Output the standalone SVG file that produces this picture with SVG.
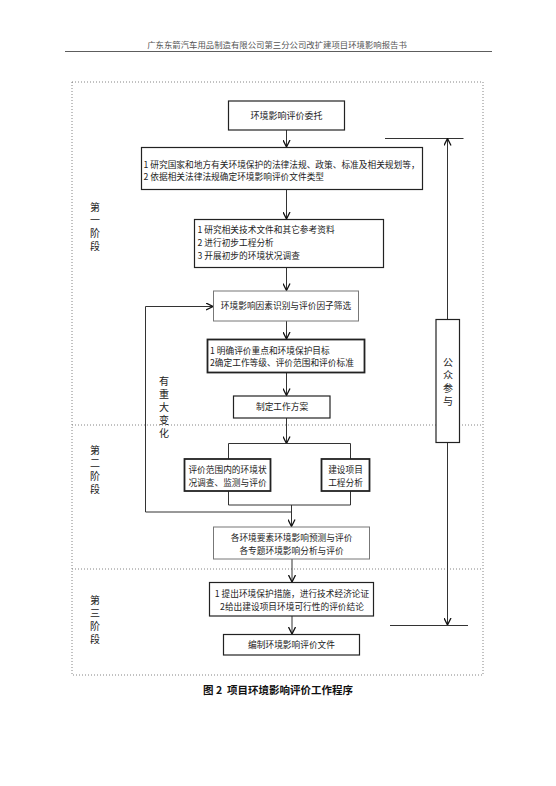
<svg xmlns="http://www.w3.org/2000/svg" width="556" height="786" viewBox="0 0 556 786">
<style>
text{font-family:"Noto Sans CJK SC","Noto Sans",sans-serif;fill:#222;}
.t{font-size:8.7px;}
.c{text-anchor:middle;}
.box{fill:#fff;stroke:#222;stroke-width:1.2;}
.boxl{fill:#fff;stroke:#777;stroke-width:1;}
.boxb{fill:#fff;stroke:#222;stroke-width:1.8;}
.dot{fill:none;stroke:#777;stroke-width:0.9;stroke-dasharray:1 2;}
.ln{fill:none;stroke:#333;stroke-width:1;}
.v{font-size:10px;writing-mode:vertical-rl;letter-spacing:3px;}
</style>
<defs>
<marker id="arr" viewBox="0 0 8 8" refX="7.5" refY="4" markerWidth="8" markerHeight="8" markerUnits="userSpaceOnUse" orient="auto">
<path d="M0.5,0.5 L7.5,4 L0.5,7.5" fill="none" stroke="#111" stroke-width="1.3"/>
</marker>
</defs>
<rect width="556" height="786" fill="#fff"/>
<g id="header">
<text x="277" y="48" class="c" style="font-size:8.4px;fill:#555;">广东东箭汽车用品制造有限公司第三分公司改扩建项目环境影响报告书</text>
<line x1="65" y1="51.5" x2="492" y2="51.5" stroke="#333" stroke-width="0.8"/>
</g>
<g id="frame">
<rect class="dot" x="72" y="82" width="411" height="593"/>
<line class="dot" x1="72" y1="425" x2="483" y2="425"/>
<line class="dot" x1="72" y1="569" x2="483" y2="569"/>
</g>
<g id="phase1"><text class="v" x="95" y="202">第一阶段</text></g>
<g id="phase2"><text class="v" x="95" y="445">第二阶段</text></g>
<g id="phase3"><text class="v" x="95" y="595">第三阶段</text></g>
<g id="connectors">
<line class="ln" x1="286.5" y1="130" x2="286.5" y2="147" marker-end="url(#arr)"/>
<line class="ln" x1="286.5" y1="189.5" x2="286.5" y2="219" marker-end="url(#arr)"/>
<line class="ln" x1="286.5" y1="267.5" x2="286.5" y2="290.5" marker-end="url(#arr)"/>
<line class="ln" x1="286.5" y1="321" x2="286.5" y2="339" marker-end="url(#arr)"/>
<line class="ln" x1="286.5" y1="372.5" x2="286.5" y2="395.5" marker-end="url(#arr)"/>
<line class="ln" x1="286.5" y1="418" x2="286.5" y2="443.5" marker-end="url(#arr)"/>
<path class="ln" d="M228.5,459 V443.5 H350.5 V459"/>
<path class="ln" d="M228.5,491 V505 H350.5 V491"/>
<line class="ln" x1="291.5" y1="505" x2="291.5" y2="526.5" marker-end="url(#arr)"/>
<path class="ln" d="M291.5,512 H145.5 V306.5 H213" marker-end="url(#arr)"/>
<line class="ln" x1="292" y1="559" x2="292" y2="582" marker-end="url(#arr)"/>
<line class="ln" x1="292" y1="616" x2="292" y2="634" marker-end="url(#arr)"/>
<line class="ln" x1="385" y1="138.5" x2="463.5" y2="138.5"/>
<line class="ln" x1="447.5" y1="319" x2="447.5" y2="138.5" marker-end="url(#arr)"/>
<line class="ln" x1="447.5" y1="442" x2="447.5" y2="625" marker-end="url(#arr)"/>
<line class="ln" x1="390" y1="625.5" x2="468" y2="625.5"/>
</g>
<g id="n1"><rect class="box" x="228.5" y="101" width="116" height="29"/><text class="c" x="286.5" y="119" style="font-size:9px">环境影响评价委托</text></g>
<g id="n2"><rect class="box" x="141.5" y="147.5" width="281" height="42"/><text class="t" x="143.5" y="167.5">1 研究国家和地方有关环境保护的法律法规、政策、标准及相关规划等，</text><text class="t" x="143.5" y="180">2 依据相关法律法规确定环境影响评价文件类型</text></g>
<g id="n3"><rect class="box" x="194.5" y="219.5" width="189" height="48"/><text class="t" x="197.5" y="233">1 研究相关技术文件和其它参考资料</text><text class="t" x="197.5" y="246">2 进行初步工程分析</text><text class="t" x="197.5" y="259">3 开展初步的环境状况调查</text></g>
<g id="n4"><rect class="boxl" x="213.5" y="291" width="145" height="30"/><text class="t c" x="286" y="309">环境影响因素识别与评价因子筛选</text></g>
<g id="n5"><rect class="boxb" x="207.5" y="339.5" width="157" height="33"/><text class="t" x="210" y="354">1 明确评价重点和环境保护目标</text><text class="t" x="210" y="366">2确定工作等级、评价范围和评价标准</text></g>
<g id="n6"><rect class="box" x="233.5" y="396" width="96.5" height="22"/><text class="t c" x="282" y="410">制定工作方案</text></g>
<g id="n7a"><rect class="boxb" x="184.5" y="459" width="86" height="32"/><text class="t c" x="227.5" y="473">评价范围内的环境状</text><text class="t c" x="227.5" y="485.5">况调查、监测与评价</text></g>
<g id="n7b"><rect class="boxb" x="321.5" y="459" width="48" height="32"/><text class="t c" x="345.5" y="473">建设项目</text><text class="t c" x="345.5" y="485.5">工程分析</text></g>
<g id="n8"><rect class="boxl" x="213.5" y="527" width="156" height="32"/><text class="t c" x="291.5" y="541">各环境要素环境影响预测与评价</text><text class="t c" x="291.5" y="554">各专题环境影响分析与评价</text></g>
<g id="n9"><rect class="box" x="209.5" y="582.5" width="164" height="33.5"/><text class="t c" x="292" y="597">1 提出环境保护措施，进行技术经济论证</text><text class="t c" x="292" y="609.5">2给出建设项目环境可行性的评价结论</text></g>
<g id="n10"><rect class="box" x="223.5" y="634.5" width="136" height="20.5"/><text class="t c" x="291.5" y="648">编制环境影响评价文件</text></g>
<g id="gongzhong"><rect class="box" x="436" y="319.5" width="23.5" height="123"/><text class="v" x="448" y="357">公众参与</text></g>
<g id="label-change"><text class="v" x="164" y="376">有重大变化</text></g>
<g id="caption"><text class="c" x="278" y="694" style="font-size:10.5px;font-weight:bold;fill:#111;">图&#160;2&#160;&#160;项目环境影响评价工作程序</text></g>
</svg>
